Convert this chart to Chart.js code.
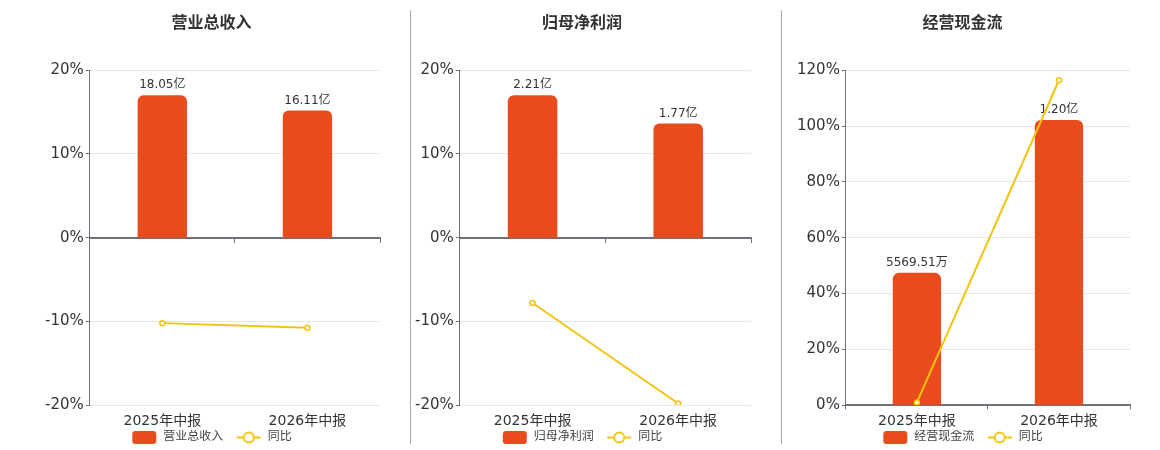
<!DOCTYPE html>
<html>
<head>
<meta charset="utf-8">
<script src="https://cdn.jsdelivr.net/npm/chart.js@4.4.1/dist/chart.umd.min.js"></script>
<style>
    html, body { margin: 0; padding: 0; background: #fff; }
    #wrap { position: relative; width: 1160px; height: 450px; overflow: hidden; }
    .panel { position: absolute; top: 0; height: 450px; }
    .sep { position: absolute; top: 10px; height: 434px; width: 1px; background: #a9a9a9; }
</style>
</head>
<body>
<div id="wrap">
    <div class="panel" style="left:40px; width:370px;"><canvas id="chartRevenue"></canvas></div>
    <div class="sep" style="left:410px;"></div>
    <div class="panel" style="left:411px; width:370px;"><canvas id="chartProfit"></canvas></div>
    <div class="sep" style="left:781px;"></div>
    <div class="panel" style="left:782px; width:378px;"><canvas id="chartCash"></canvas></div>
</div>
<script>
const periods = ['2025年中报', '2026年中报'];

// 营业总收入 (亿)
const revenueValues = [18.05, 16.11];
const revenueLabels = ['18.05亿', '16.11亿'];
const revenueYoy = [-10.2, -10.75];

// 归母净利润 (亿)
const profitValues = [2.21, 1.77];
const profitLabels = ['2.21亿', '1.77亿'];
const profitYoy = [-7.8, -19.8];

// 经营现金流 (亿)
const cashValues = [0.556951, 1.20];
const cashLabels = ['5569.51万', '1.20亿'];
const cashYoy = [1.0, 116.4];

// percent axis: [min, max, step]
const smallAxis = [-20, 20, 10];
const cashAxis = [0, 120, 20];

const BAR_COLOR = '#e84c1d';
const LINE_COLOR = '#f2c40f';
const AXIS_COLOR = '#6e7079';
const GRID_COLOR = '#e3e7f0';
const TEXT_COLOR = '#333';
const FONT = "'DejaVu Sans', 'Noto Sans CJK SC', sans-serif";

function legendIcon(kind) {
    const c = document.createElement('canvas');
    c.width = 26;
    c.height = 14;
    const ctx = c.getContext('2d');
    if (kind === 'bar') {
        ctx.fillStyle = BAR_COLOR;
        ctx.beginPath();
        ctx.roundRect(1, 1, 24, 13, 3);
        ctx.fill();
    } else {
        ctx.strokeStyle = LINE_COLOR;
        ctx.lineWidth = 2;
        ctx.beginPath();
        ctx.moveTo(1, 7.5);
        ctx.lineTo(25, 7.5);
        ctx.stroke();
        ctx.fillStyle = '#fff';
        ctx.beginPath();
        ctx.arc(13, 7.5, 5, 0, Math.PI * 2);
        ctx.fill();
        ctx.stroke();
    }
    return c;
}

const barLabelPlugin = {
    id: 'barLabels',
    afterDatasetDraw(chart, args, opts) {
        if (args.index !== 0) return;
        const ctx = chart.ctx;
        ctx.save();
        ctx.font = '12px ' + FONT;
        ctx.fillStyle = TEXT_COLOR;
        ctx.textAlign = 'center';
        ctx.textBaseline = 'bottom';
        args.meta.data.forEach((bar, i) => {
            ctx.fillText(opts.texts[i], bar.x, bar.y - 4);
        });
        ctx.restore();
    }
};

function makeChart(canvasId, title, values, texts, yoy, axis, padLeft) {
    const zeroInside = axis[0] < 0;
    const barMax = Math.max(...values) * 1.175;
    const scales = {
        y: {
            position: 'left',
            min: axis[0],
            max: axis[1],
            ticks: {
                stepSize: axis[2],
                color: TEXT_COLOR,
                font: { size: 15, family: FONT },
                padding: 2,
                callback: v => v + '%'
            },
            grid: { color: GRID_COLOR, tickColor: AXIS_COLOR, tickLength: 4 },
            border: { display: true, color: AXIS_COLOR, width: 1 }
        },
        yBar: {
            display: false,
            min: zeroInside ? -barMax : 0,
            max: barMax
        }
    };
    if (zeroInside) {
        // axis line through 0%, labels on a second axis at the bottom
        scales.x = {
            type: 'category',
            position: { y: 0 },
            offset: true,
            ticks: { display: false },
            grid: { display: true, drawOnChartArea: false, offset: true, tickColor: AXIS_COLOR, tickLength: 4 },
            border: { display: true, color: AXIS_COLOR, width: 2 }
        };
        scales.x2 = {
            type: 'category',
            position: 'bottom',
            offset: true,
            ticks: { color: TEXT_COLOR, font: { size: 14, family: FONT }, padding: 8 },
            grid: { display: false, drawTicks: false },
            border: { display: false },
            afterFit: s => { s.height -= 8; }
        };
    } else {
        scales.x = {
            type: 'category',
            position: 'bottom',
            offset: true,
            ticks: { color: TEXT_COLOR, font: { size: 14, family: FONT }, padding: 4 },
            grid: { display: true, drawOnChartArea: false, offset: true, tickColor: AXIS_COLOR, tickLength: 4 },
            border: { display: true, color: AXIS_COLOR, width: 2 },
            afterFit: s => { s.height -= 4; }
        };
    }

    const barIcon = legendIcon('bar');
    const lineIcon = legendIcon('line');

    return new Chart(document.getElementById(canvasId), {
        type: 'bar',
        data: {
            labels: periods,
            datasets: [{
                type: 'bar',
                label: title,
                data: values,
                yAxisID: 'yBar',
                backgroundColor: BAR_COLOR,
                borderRadius: 6,
                borderSkipped: 'start',
                barPercentage: 0.34,
                categoryPercentage: 1,
                order: 2
            }, {
                type: 'line',
                label: '同比',
                data: yoy,
                yAxisID: 'y',
                borderColor: LINE_COLOR,
                borderWidth: 2,
                pointRadius: 2.5,
                pointBorderWidth: 1.5,
                pointBackgroundColor: '#fff',
                pointBorderColor: LINE_COLOR,
                tension: 0,
                order: 1
            }]
        },
        options: {
            responsive: false,
            animation: false,
            devicePixelRatio: 1,
            layout: { padding: { left: padLeft, right: 30, top: 0, bottom: -3 } },
            scales: scales,
            plugins: {
                title: {
                    display: true,
                    text: title,
                    color: TEXT_COLOR,
                    font: { size: 16, weight: 'bold', family: "'Noto Sans CJK SC', sans-serif" },
                    padding: { top: 12, bottom: 39 }
                },
                legend: {
                    display: true,
                    position: 'bottom',
                    labels: {
                        usePointStyle: true,
                        pointStyleWidth: 26,
                        padding: 1,
                        color: '#444',
                        font: { size: 12, family: FONT },
                        // trailing spaces keep the gap before the second item
                        generateLabels: () => [
                            { text: title + '   ', pointStyle: barIcon, datasetIndex: 0, hidden: false, fontColor: '#444' },
                            { text: '同比', pointStyle: lineIcon, datasetIndex: 1, hidden: false, fontColor: '#444' }
                        ]
                    }
                },
                tooltip: { enabled: false },
                barLabels: { texts: texts }
            }
        },
        plugins: [barLabelPlugin]
    });
}

function sizeCanvas(id, w) {
    const c = document.getElementById(id);
    c.width = w;
    c.height = 450;
    c.style.width = w + 'px';
    c.style.height = '450px';
}

sizeCanvas('chartRevenue', 370);
sizeCanvas('chartProfit', 370);
sizeCanvas('chartCash', 378);

makeChart('chartRevenue', '营业总收入', revenueValues, revenueLabels, revenueYoy, smallAxis, 3);
makeChart('chartProfit', '归母净利润', profitValues, profitLabels, profitYoy, smallAxis, 2);
makeChart('chartCash', '经营现金流', cashValues, cashLabels, cashYoy, cashAxis, 13);
</script>
</body>
</html>
